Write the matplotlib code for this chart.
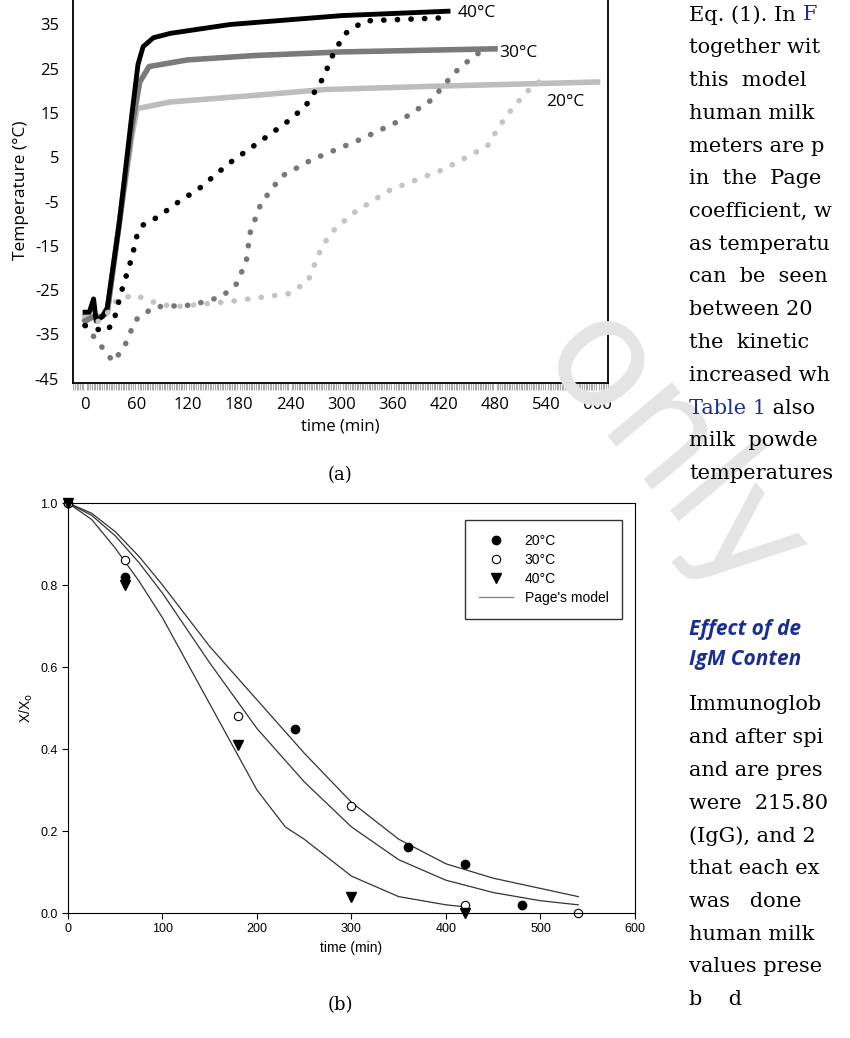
import numpy as np
import matplotlib
matplotlib.use("Agg")
import matplotlib.pyplot as plt
from matplotlib.ticker import MultipleLocator, FormatStrFormatter
from matplotlib.lines import Line2D

plt.rcParams["axes.unicode_minus"] = False

# ---- panel (a): temperature profiles ----
t40_solid = [0, 5, 10, 13, 20, 26, 40, 55, 62, 68, 80, 100, 170, 300, 425]
T40_solid = [-30, -30, -27, -32, -31, -29, -10, 15, 26, 30, 32, 33, 35, 37, 38]
t30_solid = [0, 10, 20, 26, 40, 55, 64, 75, 120, 200, 300, 480]
T30_solid = [-32, -31, -31, -30, -10, 12, 22, 25.5, 27, 28, 28.8, 29.5]
t20_solid = [0, 10, 20, 26, 40, 55, 61, 100, 200, 280, 400, 600]
T20_solid = [-31, -31, -31, -30, -10, 10, 16, 17.5, 19, 20.3, 21, 22]

t40_dot = [0, 24, 33, 42, 55, 61, 68, 86, 107, 134, 169, 208, 243, 261, 279, 292,
           305, 327, 366, 419]
T40_dot = [-33, -34.4, -32.5, -25.7, -17.5, -12.5, -10.3, -8.4, -5.4, -2, 3.7, 9,
           13.9, 17.3, 23, 29, 33, 35.8, 36.1, 36.5]
t30_dot = [0, 15, 33, 46, 59, 81, 125, 160, 178, 189, 193, 206, 230, 265, 322, 371,
           406, 432, 450, 471]
T30_dot = [-33, -36.7, -41.2, -37.8, -31.8, -28.8, -28.4, -26.5, -23.5, -18.2, -12.2,
           -5.4, 0.7, 4.4, 9, 13.5, 18, 24, 27, 30]
t20_dot = [0, 20, 37, 59, 72, 103, 169, 239, 261, 274, 287, 314, 357, 419, 471, 485,
           502, 520, 533]
T20_dot = [-33, -31.8, -27.3, -26, -27.3, -28.8, -27.6, -25.8, -23, -16.7, -12.2, -7.6,
           -2.4, 2.2, 7.5, 12, 16.5, 20.3, 22.2]

# ---- panel (b): drying curves ----
t20_pts = [0, 60, 240, 360, 420, 480]
x20_pts = [1.0, 0.82, 0.45, 0.16, 0.12, 0.02]
t30_pts = [0, 60, 180, 300, 420, 540]
x30_pts = [1.0, 0.86, 0.48, 0.26, 0.02, 0.0]
t40_pts = [0, 60, 180, 300, 420]
x40_pts = [1.0, 0.80, 0.41, 0.04, 0.0]

t_model = [0, 25, 50, 75, 100, 150, 200, 250, 300, 350, 400, 450, 500, 540]
x20_model = [1.0, 0.975, 0.93, 0.87, 0.80, 0.65, 0.52, 0.39, 0.27, 0.18, 0.12, 0.085, 0.06, 0.04]
x30_model = [1.0, 0.97, 0.92, 0.855, 0.78, 0.61, 0.45, 0.32, 0.21, 0.13, 0.08, 0.05, 0.03, 0.02]
t40_model = [0, 25, 50, 75, 100, 150, 200, 230, 250, 300, 350, 400, 420]
x40_model = [1.0, 0.96, 0.89, 0.81, 0.72, 0.51, 0.30, 0.21, 0.18, 0.09, 0.04, 0.02, 0.015]

# right-hand column of the page: each line is a list of (text, is_link) pieces
col_lines = [[("Eq. (1). In ", False), ("F", True)], [("together wit", False)],
             [("this  model", False)], [("human milk", False)], [("meters are p", False)],
             [("in  the  Page", False)], [("coefficient, w", False)], [("as temperatu", False)],
             [("can  be  seen", False)], [("between 20", False)], [("the  kinetic", False)],
             [("increased wh", False)], [("Table 1", True), (" also", False)],
             [("milk  powde", False)], [("temperatures", False)]]
col_lines2 = ["Immunoglob", "and after spi", "and are pres", "were  215.80", "(IgG), and 2",
              "that each ex", "was   done", "human milk", "values prese", "b    d"]

fig = plt.figure(figsize=(8.5, 10.38), dpi=100)
renderer = fig.canvas.get_renderer()

# watermark
fig.text(0.79, 0.56, "only", fontsize=110, color="#e4e4e4", rotation=-50,
         ha="center", va="center", family="DejaVu Sans", zorder=0)

# ---------- panel (a) ----------
ax = fig.add_axes([0.086, 0.631, 0.629, 0.371])
sans = "Open Sans"
ax.plot(t20_solid, T20_solid, color="#bdbdbd", lw=4)
ax.plot(t30_solid, T30_solid, color="#7a7a7a", lw=4)
ax.plot(t40_solid, T40_solid, color="black", lw=3.5)
for t, T, c in [(t20_dot, T20_dot, "#c4c4c4"), (t30_dot, T30_dot, "#777777"),
                (t40_dot, T40_dot, "black")]:
    ax.plot(t, T, color=c, lw=4, linestyle=(0, (0.05, 2.4)), dash_capstyle="round")
ax.text(436, 37.5, "40°C", fontsize=12.5, family=sans, va="center")
ax.text(485, 28.5, "30°C", fontsize=12.5, family=sans, va="center")
ax.text(540, 17.5, "20°C", fontsize=12.5, family=sans, va="center")
ax.set_xlim(-14, 612)
ax.set_ylim(-46, 41)
ax.set_xticks(np.arange(0, 601, 60))
ax.set_yticks(np.arange(-45, 36, 10))
ax.xaxis.set_minor_locator(MultipleLocator(2))
ax.tick_params(which="major", length=0, labelsize=12, pad=10)
ax.tick_params(axis="x", which="minor", length=5, color="#aaaaaa", width=0.8)
ax.tick_params(axis="y", which="minor", length=0)
for lab in ax.get_xticklabels() + ax.get_yticklabels():
    lab.set_family(sans)
for s in ax.spines.values():
    s.set_linewidth(1.3)
ax.set_xlabel("time (min)", fontsize=12, family=sans)
ax.set_ylabel("Temperature (°C)", fontsize=12.5, family=sans, labelpad=4)
fig.text(0.40, 0.542, "(a)", fontsize=13, family="DejaVu Serif", ha="center", va="center")

# ---------- panel (b) ----------
bx = fig.add_axes([0.080, 0.1204, 0.667, 0.395])
arial = "Liberation Sans"
bx.plot(t_model, x20_model, color="#333333", lw=0.9)
bx.plot(t_model, x30_model, color="#333333", lw=0.9)
bx.plot(t40_model, x40_model, color="#333333", lw=0.9)
bx.plot(t20_pts, x20_pts, "o", color="black", ms=6, clip_on=False)
bx.plot(t30_pts, x30_pts, "o", mfc="white", mec="black", ms=6, mew=0.8, clip_on=False)
bx.plot(t40_pts, x40_pts, "v", color="black", ms=7, clip_on=False)
bx.set_xlim(0, 600)
bx.set_ylim(0, 1.0)
bx.set_xticks(np.arange(0, 601, 100))
bx.set_yticks(np.arange(0, 1.01, 0.2))
bx.yaxis.set_major_formatter(FormatStrFormatter("%.1f"))
bx.tick_params(labelsize=9, length=4)
for lab in bx.get_xticklabels() + bx.get_yticklabels():
    lab.set_family(arial)
bx.set_xlabel("time (min)", fontsize=10, family=arial)
bx.set_ylabel("X/X$_\\mathrm{o}$", fontsize=10, family=arial)
handles = [
    Line2D([], [], marker="o", color="black", ls="none", ms=6),
    Line2D([], [], marker="o", mfc="white", mec="black", ls="none", ms=6, mew=0.8),
    Line2D([], [], marker="v", color="black", ls="none", ms=7),
    Line2D([], [], color="#888888", lw=1),
]
leg = bx.legend(handles, ["20°C", "30°C", "40°C", "Page's model"], loc="upper right",
                bbox_to_anchor=(0.99, 0.975), frameon=True, fancybox=False,
                edgecolor="black", prop={"family": arial, "size": 10},
                borderpad=1.0, labelspacing=0.35, handlelength=2.5)
leg.get_frame().set_linewidth(1.0)
fig.text(0.40, 0.032, "(b)", fontsize=13, family="DejaVu Serif", ha="center", va="center")

# ---------- right text column ----------
serif = "DejaVu Serif"
blue = "#1a2f8f"
H = 1038.0
fs = 15
x0 = 0.811
for i, pieces in enumerate(col_lines):
    y = 1 - (15 + 32.75 * i) / H
    x = x0
    for txt, link in pieces:
        t = fig.text(x, y, txt, fontsize=fs, family=serif, va="center",
                     color=blue if link else "black")
        bb = t.get_window_extent(renderer)
        x += bb.width / fig.bbox.width
for lbl, ypx in [("Effect of de", 630), ("IgM Conten", 660)]:
    fig.text(x0, 1 - ypx / H, lbl, fontsize=fs, family="Open Sans",
             weight="bold", style="italic", color=blue, va="center")
for i, line in enumerate(col_lines2):
    y = 1 - (705 + 32.75 * i) / H
    fig.text(x0, y, line, fontsize=fs, family=serif, va="center")

fig.savefig("out.png", dpi=100)
